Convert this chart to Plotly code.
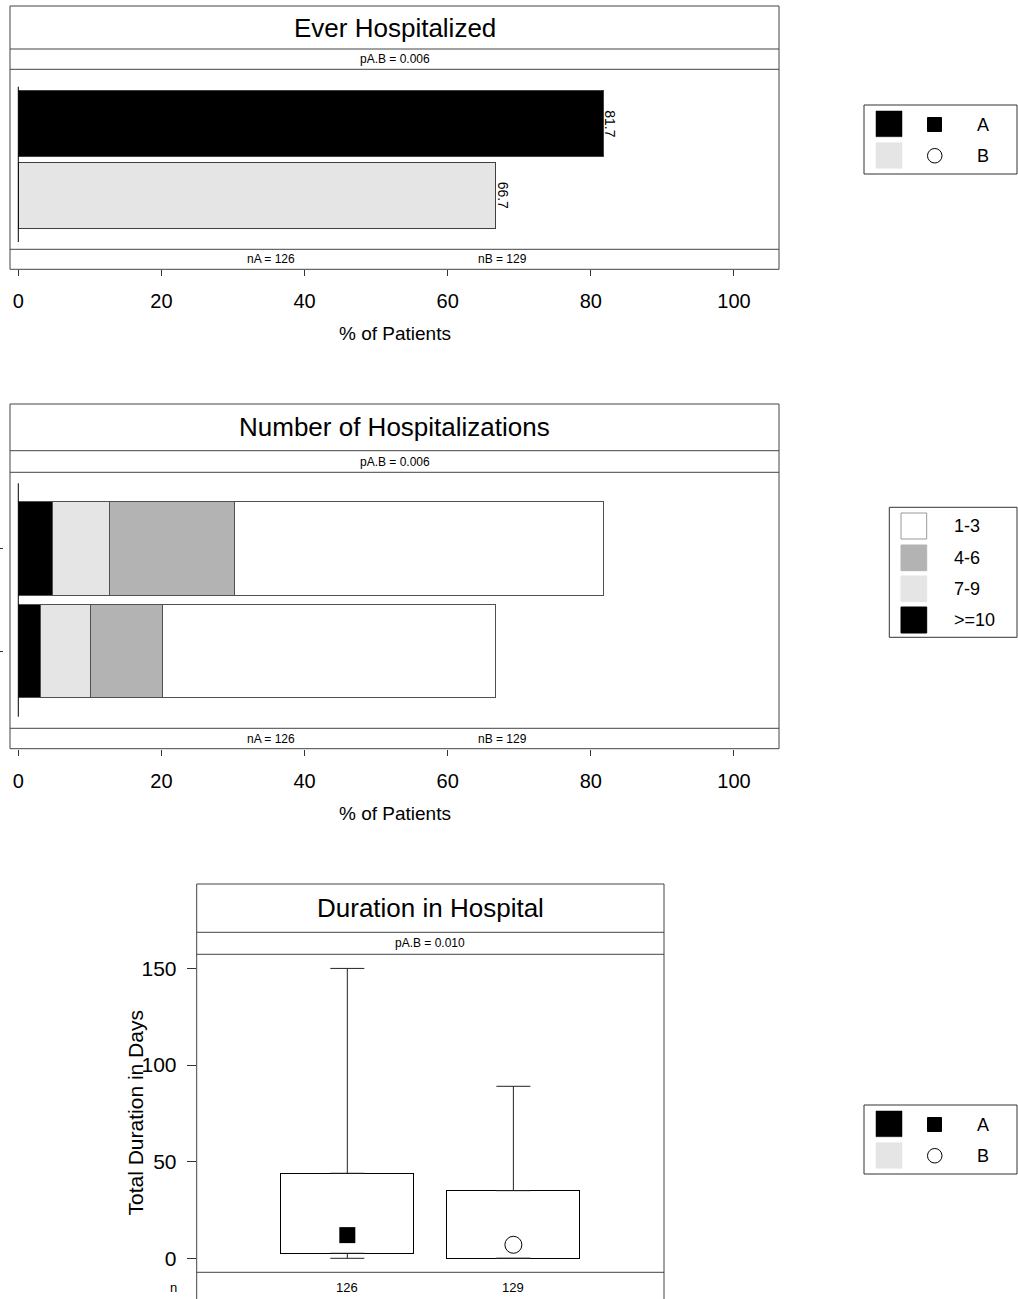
import plotly.graph_objects as go

W, H = 1018, 1299
FONT = "Liberation Sans, Arial, sans-serif"


def px(x):
    return x / W


def py(y):
    return 1 - y / H


# ---------------- data ----------------
groups = ["A", "B"]
n_patients = [126, 129]
group_colors = ["#000000", "#e5e5e5"]

# Panel 1: Ever Hospitalized (% of patients)
ever_hosp_pct = [81.7, 66.7]
p_ever = "pA.B = 0.006"

# Panel 2: Number of Hospitalizations (% of patients), stacked
count_labels = [">=10", "7-9", "4-6", "1-3"]
pct_ge10 = [4.8, 3.1]
pct_7_9 = [7.9, 7.0]
pct_4_6 = [17.5, 10.1]
pct_1_3 = [51.5, 46.5]
count_colors = ["#000000", "#e5e5e5", "#b3b3b3", "#ffffff"]
p_count = "pA.B = 0.006"

# Panel 3: Duration in Hospital (days)
box_pos = [1, 2]
dur_min = [0, 0]
dur_q1 = [2.6, 0]
dur_median = [12, 7]
dur_q3 = [44, 35]
dur_max = [150, 89]
p_dur = "pA.B = 0.010"

x_ticks = [0, 20, 40, 60, 80, 100]
y_ticks_dur = [0, 50, 100, 150]

# ---------------- figure ----------------
fig = go.Figure()

# Panel 1 bars
fig.add_trace(go.Bar(
    y=groups, x=ever_hosp_pct, orientation="h",
    marker=dict(color=group_colors, line=dict(color="#404040", width=1)),
    width=0.924, xaxis="x", yaxis="y", showlegend=False, hoverinfo="x+y",
))

# Panel 2 stacked bars
for lab, vals, col in zip(count_labels, [pct_ge10, pct_7_9, pct_4_6, pct_1_3], count_colors):
    fig.add_trace(go.Bar(
        y=groups, x=vals, orientation="h", name=lab,
        marker=dict(color=col, line=dict(color="#505050", width=1)),
        width=0.912, xaxis="x2", yaxis="y2", showlegend=False,
    ))

# Panel 3 boxes (q1..q3)
fig.add_trace(go.Bar(
    x=box_pos, y=[q3 - q1 for q1, q3 in zip(dur_q1, dur_q3)], base=dur_q1,
    width=0.8, marker=dict(color="white", line=dict(color="black", width=1)),
    xaxis="x3", yaxis="y3", showlegend=False,
))
# upper whiskers
fig.add_trace(go.Scatter(
    x=box_pos, y=dur_q3, mode="markers",
    marker=dict(size=1, color="rgba(0,0,0,0)"),
    error_y=dict(type="data", symmetric=False,
                 array=[mx - q3 for mx, q3 in zip(dur_max, dur_q3)],
                 arrayminus=[0 for _ in dur_q3],
                 width=17, thickness=1, color="#222"),
    xaxis="x3", yaxis="y3", showlegend=False, hoverinfo="skip",
))
# lower whiskers
fig.add_trace(go.Scatter(
    x=box_pos, y=dur_q1, mode="markers",
    marker=dict(size=1, color="rgba(0,0,0,0)"),
    error_y=dict(type="data", symmetric=False,
                 array=[0 for _ in dur_q1],
                 arrayminus=[q1 - mn for q1, mn in zip(dur_q1, dur_min)],
                 width=17, thickness=1, color="#222"),
    xaxis="x3", yaxis="y3", showlegend=False, hoverinfo="skip",
))
# medians
fig.add_trace(go.Scatter(
    x=[box_pos[0]], y=[dur_median[0]], mode="markers",
    marker=dict(symbol="square", size=16, color="#000000", opacity=1,
                line=dict(color="#000000", width=0)),
    xaxis="x3", yaxis="y3", showlegend=False,
))
fig.add_trace(go.Scatter(
    x=[box_pos[1]], y=[dur_median[1]], mode="markers",
    marker=dict(symbol="circle", size=17, color="white", opacity=1,
                line=dict(color="black", width=1)),
    xaxis="x3", yaxis="y3", showlegend=False,
))

# ---------------- axes ----------------
xrange_pct = [-1.16, 106.29]
common_x = dict(range=xrange_pct, tickvals=x_ticks, ticks="outside", ticklen=6,
                tickcolor="#333", showline=False, showgrid=False, zeroline=False,
                tickfont=dict(size=20, color="black", family=FONT),
                ticklabelstandoff=8, anchor="free")

fig.update_layout(
    width=W, height=H, margin=dict(l=0, r=0, t=0, b=0),
    paper_bgcolor="white", plot_bgcolor="white",
    barmode="stack", showlegend=False,
    font=dict(family=FONT, color="black"),
    xaxis=dict(domain=[px(10), px(779)], position=py(269.3), **common_x),
    yaxis=dict(domain=[py(249.3), py(69.3)], type="category", categoryarray=groups,
               range=[1.75, -0.75], showticklabels=False, ticks="", showgrid=False,
               zeroline=False, showline=False, anchor="x"),
    xaxis2=dict(domain=[px(10), px(779)], position=py(748.7), **common_x),
    yaxis2=dict(domain=[py(728.3), py(472.3)], type="category", categoryarray=groups,
                range=[1.754, -0.743], showticklabels=False, ticks="outside", ticklen=3,
                tickcolor="#333", showgrid=False, zeroline=False, showline=False,
                anchor="free", position=px(3)),
    xaxis3=dict(domain=[px(196.7), px(664)], range=[0.093, 2.907], showticklabels=False,
                ticks="", showgrid=False, zeroline=False, showline=False, anchor="y3"),
    yaxis3=dict(domain=[py(1272.3), py(954.3)], range=[-7.24, 157.3], tickvals=y_ticks_dur,
                ticks="outside", ticklen=9, tickcolor="#333", showgrid=False, zeroline=False,
                showline=False, tickfont=dict(size=21, color="black", family=FONT),
                ticklabelstandoff=6, anchor="x3"),
)

# ---------------- shapes (panel frames, strips, legends) ----------------
shapes = []
LC = "#444"


def hline(y, x0, x1, color=LC):
    shapes.append(dict(type="line", xref="paper", yref="paper", x0=px(x0), x1=px(x1),
                       y0=py(y), y1=py(y), line=dict(color=color, width=1)))


def vline(x, y0, y1, color=LC):
    shapes.append(dict(type="line", xref="paper", yref="paper", x0=px(x), x1=px(x),
                       y0=py(y0), y1=py(y1), line=dict(color=color, width=1)))


def rect(x0, y0, x1, y1, fill="rgba(0,0,0,0)", line=LC, lw=1):
    shapes.append(dict(type="rect", xref="paper", yref="paper", x0=px(x0), x1=px(x1),
                       y0=py(y0), y1=py(y1), fillcolor=fill,
                       line=dict(color=line, width=lw)))


# panel 1 frame
rect(10, 6, 779, 269.3)
for y in (49, 69.3, 249.3):
    hline(y, 10, 779)
# panel 2 frame
rect(10, 404, 779, 748.7)
for y in (450.7, 472.3, 728.3):
    hline(y, 10, 779)
# panel 3 frame
hline(884, 196.7, 664)
vline(196.7, 884, 1300)
vline(664, 884, 1300)
for y in (932.3, 954.3, 1272.3):
    hline(y, 196.7, 664)

# zero reference lines in panels 1 and 2
shapes.append(dict(type="line", xref="x", yref="paper", x0=0, x1=0, y0=py(86.7), y1=py(242),
                   line=dict(color="black", width=1)))
shapes.append(dict(type="line", xref="x2", yref="paper", x0=0, x1=0, y0=py(483.3), y1=py(716.7),
                   line=dict(color="black", width=1)))

annotations = []


def text(x, y, s, size, xanchor="center", xref="paper", angle=0):
    annotations.append(dict(x=x if xref != "paper" else px(x), y=py(y), xref=xref, yref="paper",
                            text=s, showarrow=False, xanchor=xanchor, yanchor="middle",
                            textangle=angle, font=dict(size=size, color="black", family=FONT)))


# group legends (panel 1 and 3)
for off in (0, 1000):
    rect(864, 105 + off, 1017, 174 + off, line="#333")
    rect(876, 111 + off, 902, 136.7 + off, fill=group_colors[0], line=group_colors[0], lw=0.5)
    rect(876, 142.7 + off, 902, 168.3 + off, fill=group_colors[1], line=group_colors[1], lw=0.5)
    rect(927.5, 117.5 + off, 941.5, 131.5 + off, fill="black", line="black")
    shapes.append(dict(type="circle", xref="paper", yref="paper", x0=px(927.5), x1=px(942),
                       y0=py(148.5 + off), y1=py(163 + off), fillcolor="white",
                       line=dict(color="black", width=1)))
    text(983, 125 + off, groups[0], 18)
    text(983, 156 + off, groups[1], 18)

# count legend (panel 2): order 1-3, 4-6, 7-9, >=10
rect(889.3, 507.3, 1017, 637.3, line="#333")
leg_rows = [(513, 539), (545, 570.7), (576, 601.7), (607, 633)]
for (y0, y1), lab, col in zip(leg_rows, count_labels[::-1], count_colors[::-1]):
    rect(901, y0, 926.7, y1, fill=col, line="#999" if col == "#ffffff" else col)
    text(951.7, (y0 + y1) / 2, lab, 18, xanchor="left")

# titles and strips
text(394.5, 27.5, "Ever Hospitalized", 26)
text(394.5, 59.3, p_ever, 12)
text(394.5, 427.4, "Number of Hospitalizations", 26)
text(394.5, 461.5, p_count, 12)
text(430.4, 908, "Duration in Hospital", 26)
text(430.4, 943.3, p_dur, 12)

# n strips
for yy, xr in ((259.3, "x"), (738.5, "x2")):
    text(35.3, yy, f"nA = {n_patients[0]}", 12, xref=xr)
    text(67.6, yy, f"nB = {n_patients[1]}", 12, xref=xr)

# bar value labels (rotated)
for g, v in zip(groups, ever_hosp_pct):
    annotations.append(dict(x=v, y=g, xref="x", yref="y", text=f"{v:.1f}", showarrow=False,
                            xanchor="left", yanchor="middle", textangle=90, xshift=-3,
                            font=dict(size=14, color="black", family=FONT)))

# x-axis titles
text(394.5, 333.3, "% of Patients", 19)
text(394.5, 813.5, "% of Patients", 19)

# panel 3 y title and n row
text(135, 1113.5, "Total Duration in Days", 21, angle=-90)
text(173, 1287, "n", 13)
for pos, n in zip(box_pos, n_patients):
    annotations.append(dict(x=pos, y=py(1287), xref="x3", yref="paper", text=str(n),
                            showarrow=False, xanchor="center", yanchor="middle",
                            font=dict(size=13, color="black", family=FONT)))

fig.update_layout(shapes=shapes, annotations=annotations)
fig.write_html("out.html")
